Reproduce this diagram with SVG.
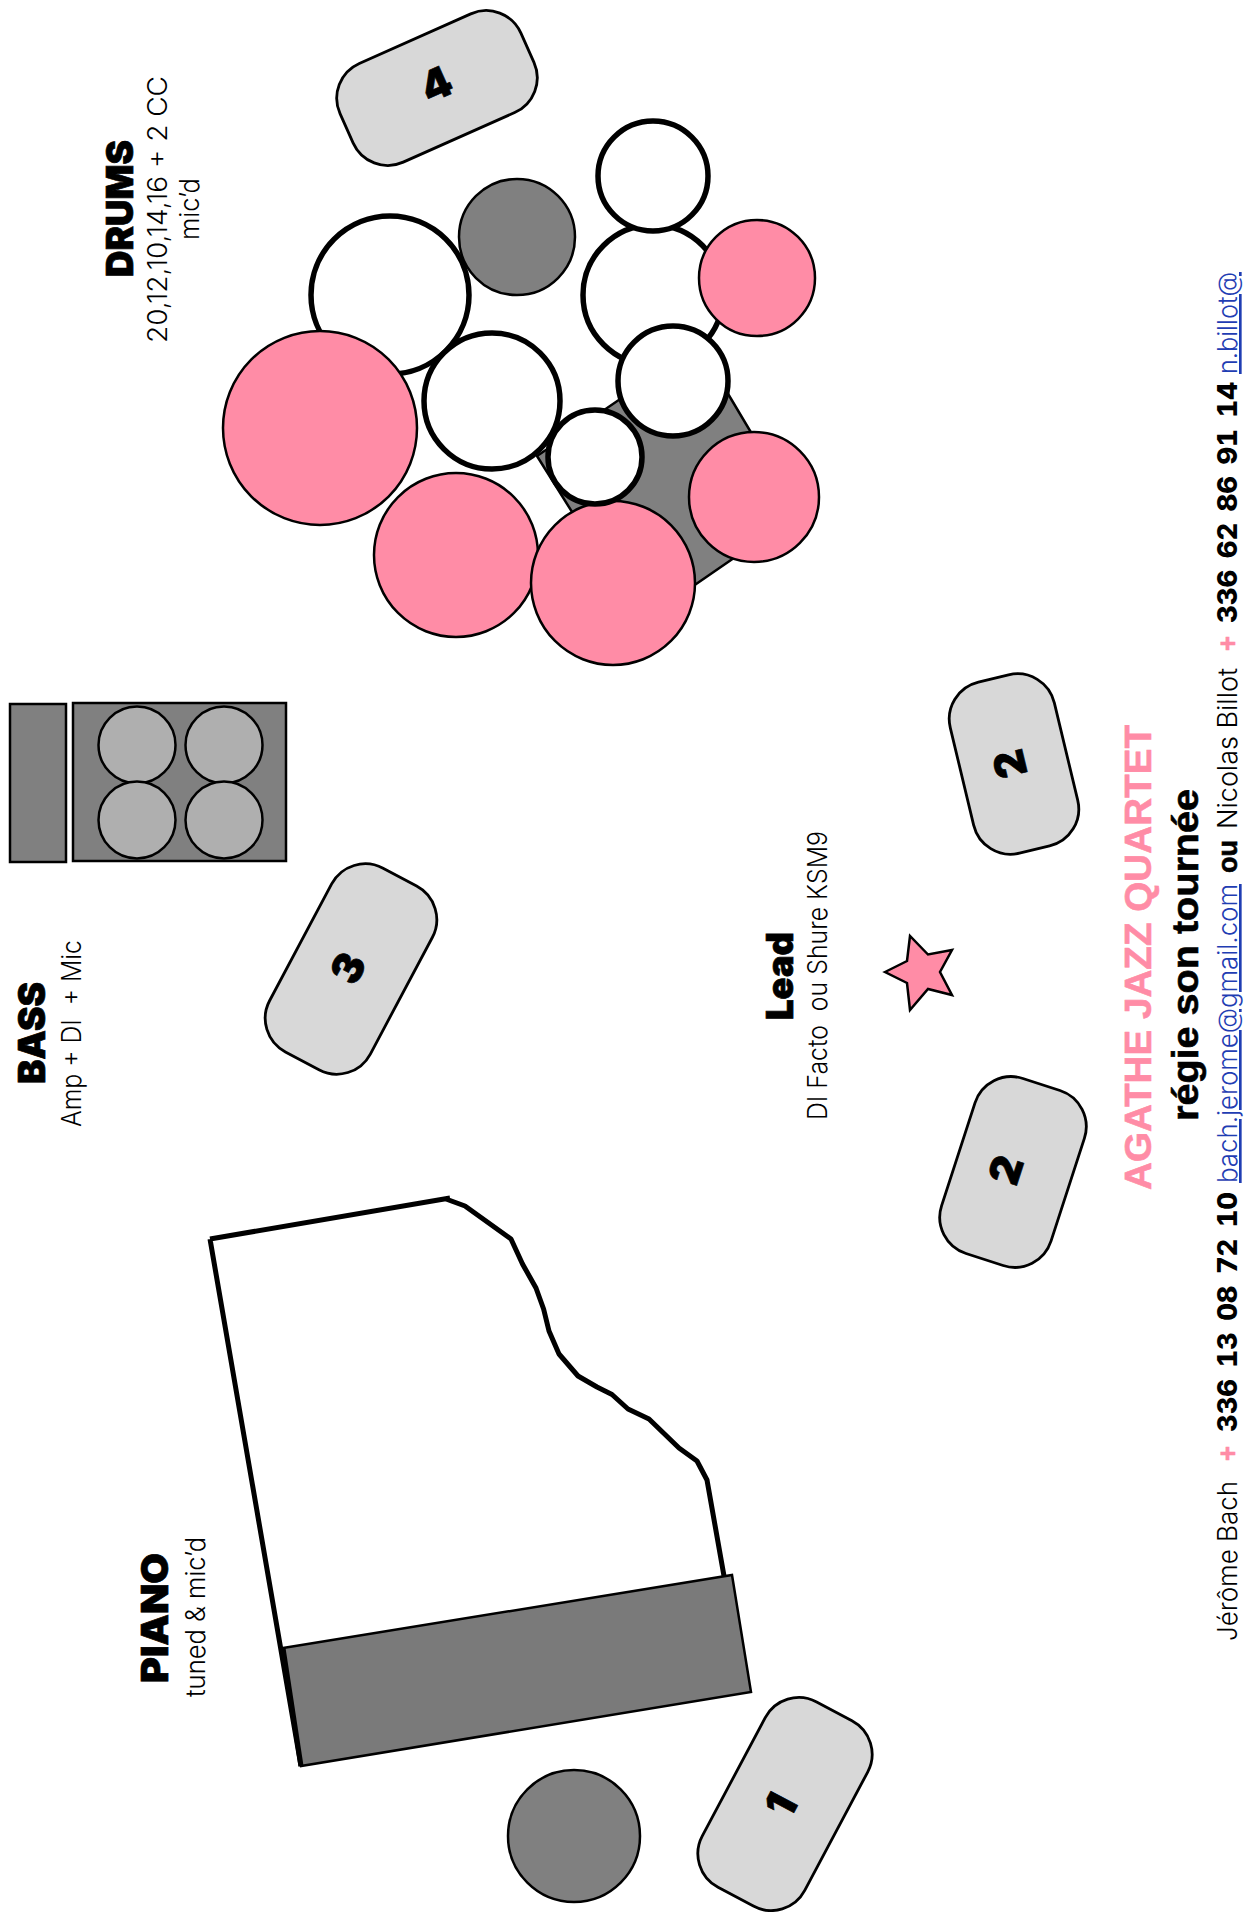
<svg xmlns="http://www.w3.org/2000/svg" width="1248" height="1912" viewBox="0 0 1248 1912">
<style>
.h{font-family:"Inter","Liberation Sans",sans-serif;font-weight:900;fill:#000;stroke:#000;stroke-width:.7}
.l{font-family:"Inter","Liberation Sans",sans-serif;font-weight:300;fill:#000}
.b{font-family:"Liberation Sans",Arial,sans-serif;font-weight:700;fill:#000;stroke:#000;stroke-width:.6}
.d{font-family:"Inter","Liberation Sans",sans-serif;font-weight:800;fill:#000;font-feature-settings:"tnum";word-spacing:4px}
.lk{fill:#1f3db3;text-decoration:underline}
.p{fill:#ff8ca6;stroke:#ff8ca6}
.pk{fill:#ff8ca6;stroke:#000;stroke-width:2.5}
.wh{fill:#fff;stroke:#000;stroke-width:5.5}
.gr{fill:#808080;stroke:#000;stroke-width:2.5}
.riser{fill:#d8d8d8;stroke:#000;stroke-width:2.8}
.sp{fill:#afafaf;stroke:#000;stroke-width:2.5}
.num{font-size:42px;text-anchor:middle}
</style>
<g id="drums">
<polygon class="gr" points="699,345 799,513 641,622 537,456"/>
<circle class="wh" cx="653" cy="295" r="70"/>
<circle class="wh" cx="653" cy="176" r="55"/>
<circle class="pk" cx="757" cy="278" r="58"/>
<circle class="gr" cx="517" cy="237" r="58"/>
<circle class="wh" cx="390" cy="295" r="79"/>
<circle class="pk" cx="320" cy="428" r="97"/>
<circle class="wh" cx="492" cy="401" r="68"/>
<circle class="wh" cx="673" cy="381" r="55"/>
<circle class="pk" cx="754" cy="497" r="65"/>
<circle class="pk" cx="456" cy="555" r="82"/>
<circle class="pk" cx="613" cy="583" r="82"/>
<circle class="wh" cx="595" cy="457" r="47"/>
</g>
<g id="riser-4">
<rect class="riser" x="-99" y="-54" width="198" height="108" rx="38" transform="translate(437,88) rotate(-24)"/>
<text class="h num" transform="translate(436,84) rotate(-24)" y="15">4</text>
</g>
<g id="bass-amp">
<rect class="gr" x="10" y="704" width="56" height="158"/>
<rect class="gr" x="73" y="703" width="213" height="158"/>
<circle class="sp" cx="137" cy="745" r="38.500"/>
<circle class="sp" cx="224" cy="745" r="38.500"/>
<circle class="sp" cx="137" cy="820" r="38.500"/>
<circle class="sp" cx="224" cy="820" r="38.500"/>
</g>
<g id="riser-3">
<rect class="riser" x="-57" y="-104" width="114" height="208" rx="38" transform="translate(351,969) rotate(28)"/>
<text class="h num" transform="translate(348,968) rotate(-62)" y="15">3</text>
</g>
<g id="riser-2a">
<rect class="riser" x="-53.500" y="-88" width="107" height="176" rx="38" transform="translate(1014,764) rotate(-13.500)"/>
<text class="h num" transform="translate(1010,764) rotate(-103.500)" y="15">2</text>
</g>
<g id="riser-2b">
<rect class="riser" x="-57.500" y="-92" width="115" height="184" rx="38" transform="translate(1013,1172) rotate(18)"/>
<text class="h num" transform="translate(1006,1170) rotate(-72)" y="15">2</text>
</g>
<g id="riser-1">
<rect class="riser" x="-58" y="-105" width="116" height="210" rx="38" transform="translate(785,1804) rotate(28)"/>
<text class="h num" transform="translate(781,1805) rotate(-62)" y="15">1</text>
</g>
<g id="lead-star">
<polygon class="pk" points="885,972 907,961 910,936 928,954.500 952,950 940,972 952,995 928,989 910,1010 907,983"/>
</g>
<g id="piano">
<path d="M210,1239 L450,1198 M446,1199 L465,1206 L511,1239 L522.500,1264 L536,1288 L543.600,1309 L549,1331 L559,1354 L578,1376 L597,1387 L612,1394.500 L628,1409 L649,1419 L679,1448 L697,1461 L707,1480 L724,1576 M210,1239 L301,1766" fill="#fff" stroke="#000" stroke-width="5" stroke-linejoin="round"/>
<polygon points="283,1648 732,1575 751,1692 301,1766" fill="#7a7a7a" stroke="#000" stroke-width="2.500"/>
<path d="M283,1648 L301,1766" fill="none" stroke="#000" stroke-width="5"/>
</g>
<g id="piano-stool"><circle class="gr" cx="574" cy="1836" r="66"/></g>
<g id="labels">
<text class="h" font-size="37" textLength="137" lengthAdjust="spacingAndGlyphs" transform="translate(133,277) rotate(-90)">DRUMS</text>
<text class="l" font-size="26.500" textLength="267" lengthAdjust="spacingAndGlyphs" transform="translate(167,343) rotate(-90)">20,12,10,14,16 + 2 CC</text>
<text class="l" font-size="26.500" textLength="62" lengthAdjust="spacingAndGlyphs" transform="translate(199,240) rotate(-90)">mic’d</text>
<text class="h" font-size="37" textLength="102" lengthAdjust="spacingAndGlyphs" transform="translate(45,1084) rotate(-90)">BASS</text>
<text class="l" font-size="26.500" textLength="187" lengthAdjust="spacingAndGlyphs" xml:space="preserve" transform="translate(81,1127) rotate(-90)">Amp + DI  + Mic</text>
<text class="h" font-size="37" textLength="130" lengthAdjust="spacingAndGlyphs" transform="translate(168,1683) rotate(-90)">PIANO</text>
<text class="l" font-size="26.500" textLength="160" lengthAdjust="spacingAndGlyphs" transform="translate(205,1697) rotate(-90)">tuned &amp; mic’d</text>
<text class="h" font-size="37" textLength="88" lengthAdjust="spacingAndGlyphs" transform="translate(793,1020) rotate(-90)">Lead</text>
<text class="l" font-size="26.500" textLength="289" lengthAdjust="spacingAndGlyphs" xml:space="preserve" transform="translate(827,1120) rotate(-90)">DI Facto  ou Shure KSM9</text>
<text class="b p" font-size="37" textLength="465" lengthAdjust="spacingAndGlyphs" transform="translate(1151,1190) rotate(-90)">AGATHE JAZZ QUARTET</text>
<text class="b" font-size="36" textLength="332" lengthAdjust="spacingAndGlyphs" transform="translate(1198,1121) rotate(-90)">régie son tournée</text>
<text class="l" font-size="26.500" textLength="160" lengthAdjust="spacingAndGlyphs" transform="translate(1237,1641) rotate(-90)">Jérôme Bach</text>
<text class="b p" font-size="28" textLength="15" lengthAdjust="spacingAndGlyphs" transform="translate(1237,1461) rotate(-90)">+</text>
<text class="d" font-size="27" textLength="240" lengthAdjust="spacingAndGlyphs" transform="translate(1237,1432) rotate(-90)">336 13 08 72 10</text>
<text class="l lk" font-size="26.500" textLength="299" lengthAdjust="spacingAndGlyphs" transform="translate(1237,1183) rotate(-90)">bach.jerome@gmail.com</text>
<text class="b" font-size="27" textLength="33" lengthAdjust="spacingAndGlyphs" transform="translate(1237,873) rotate(-90)">ou</text>
<text class="l" font-size="26.500" textLength="161" lengthAdjust="spacingAndGlyphs" transform="translate(1237,829) rotate(-90)">Nicolas Billot</text>
<text class="b p" font-size="28" textLength="15" lengthAdjust="spacingAndGlyphs" transform="translate(1237,651) rotate(-90)">+</text>
<text class="d" font-size="27" textLength="241" lengthAdjust="spacingAndGlyphs" transform="translate(1237,623) rotate(-90)">336 62 86 91 14</text>
<text class="l lk" font-size="26.500" textLength="102" lengthAdjust="spacingAndGlyphs" transform="translate(1237,374) rotate(-90)">n.billot@</text>
</g>
</svg>
